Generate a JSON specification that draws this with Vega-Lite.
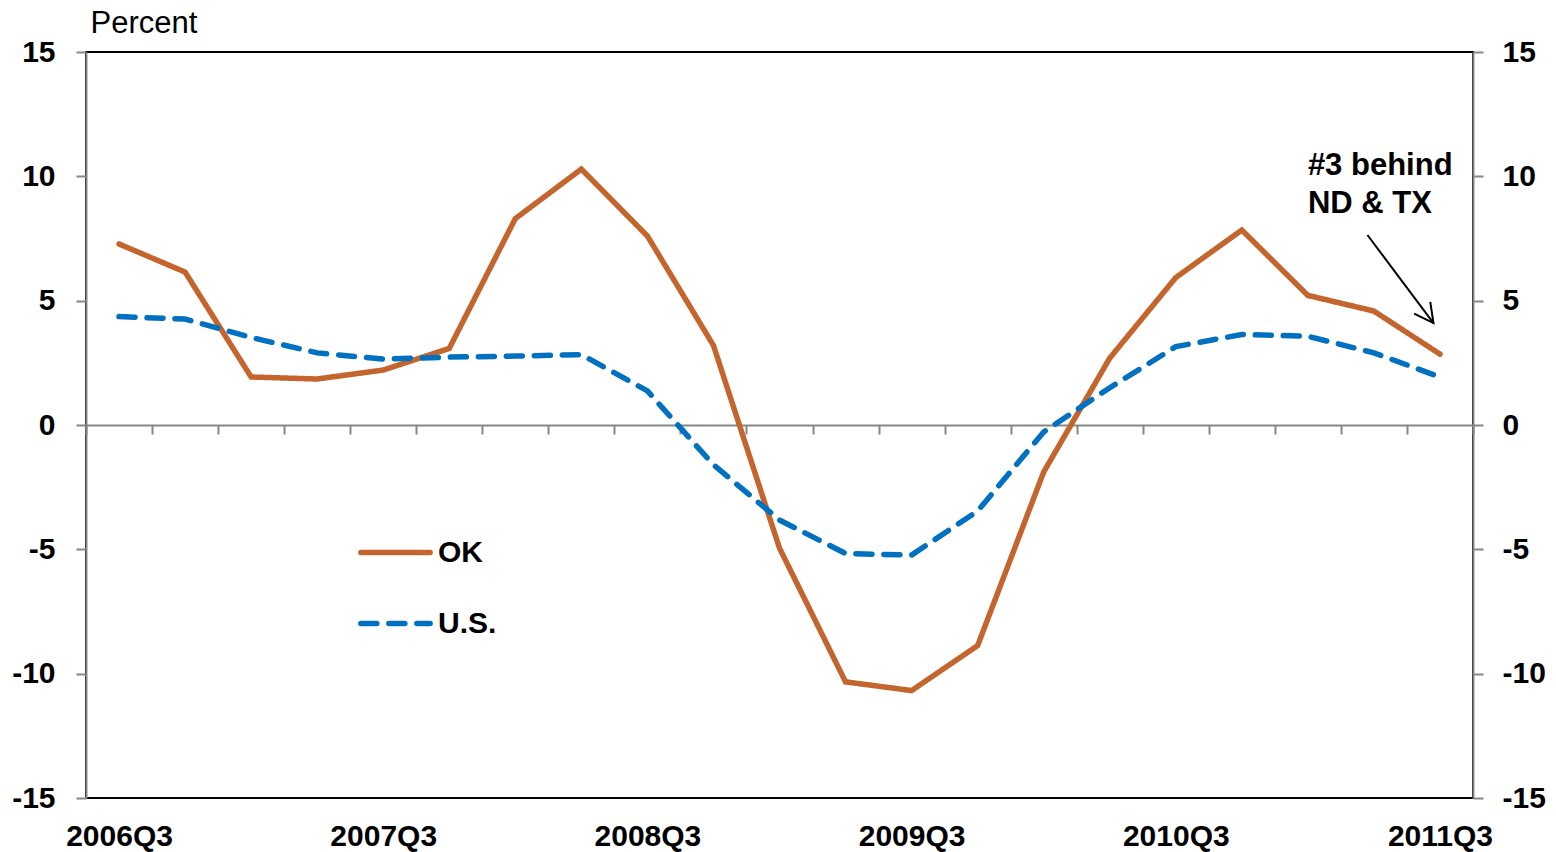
{
  "$schema": "https://vega.github.io/schema/vega-lite/v6.json",
  "width": 1387,
  "height": 746,
  "autosize": {"type": "none"},
  "padding": {"left": 86, "top": 52, "right": 83, "bottom": 54},
  "config": {"view": {"stroke": "#000", "strokeWidth": 2}, "font": "Liberation Sans"},
  "datasets": {
    "series": [
      {"quarter": "2006Q3", "series": "OK", "value": 7.28},
      {"quarter": "2006Q4", "series": "OK", "value": 6.15},
      {"quarter": "2007Q1", "series": "OK", "value": 1.93},
      {"quarter": "2007Q2", "series": "OK", "value": 1.85},
      {"quarter": "2007Q3", "series": "OK", "value": 2.21},
      {"quarter": "2007Q4", "series": "OK", "value": 3.08},
      {"quarter": "2008Q1", "series": "OK", "value": 8.3},
      {"quarter": "2008Q2", "series": "OK", "value": 10.29},
      {"quarter": "2008Q3", "series": "OK", "value": 7.6},
      {"quarter": "2008Q4", "series": "OK", "value": 3.2},
      {"quarter": "2009Q1", "series": "OK", "value": -4.95},
      {"quarter": "2009Q2", "series": "OK", "value": -10.33},
      {"quarter": "2009Q3", "series": "OK", "value": -10.68},
      {"quarter": "2009Q4", "series": "OK", "value": -8.87},
      {"quarter": "2010Q1", "series": "OK", "value": -1.89},
      {"quarter": "2010Q2", "series": "OK", "value": 2.69},
      {"quarter": "2010Q3", "series": "OK", "value": 5.93},
      {"quarter": "2010Q4", "series": "OK", "value": 7.84},
      {"quarter": "2011Q1", "series": "OK", "value": 5.21},
      {"quarter": "2011Q2", "series": "OK", "value": 4.58},
      {"quarter": "2011Q3", "series": "OK", "value": 2.85},
      {"quarter": "2006Q3", "series": "U.S.", "value": 4.36},
      {"quarter": "2006Q4", "series": "U.S.", "value": 4.26},
      {"quarter": "2007Q1", "series": "U.S.", "value": 3.52},
      {"quarter": "2007Q2", "series": "U.S.", "value": 2.9},
      {"quarter": "2007Q3", "series": "U.S.", "value": 2.65},
      {"quarter": "2007Q4", "series": "U.S.", "value": 2.73},
      {"quarter": "2008Q1", "series": "U.S.", "value": 2.77},
      {"quarter": "2008Q2", "series": "U.S.", "value": 2.83},
      {"quarter": "2008Q3", "series": "U.S.", "value": 1.37},
      {"quarter": "2008Q4", "series": "U.S.", "value": -1.6},
      {"quarter": "2009Q1", "series": "U.S.", "value": -3.82},
      {"quarter": "2009Q2", "series": "U.S.", "value": -5.17},
      {"quarter": "2009Q3", "series": "U.S.", "value": -5.23},
      {"quarter": "2009Q4", "series": "U.S.", "value": -3.46},
      {"quarter": "2010Q1", "series": "U.S.", "value": -0.28},
      {"quarter": "2010Q2", "series": "U.S.", "value": 1.5},
      {"quarter": "2010Q3", "series": "U.S.", "value": 3.15},
      {"quarter": "2010Q4", "series": "U.S.", "value": 3.64},
      {"quarter": "2011Q1", "series": "U.S.", "value": 3.57},
      {"quarter": "2011Q2", "series": "U.S.", "value": 2.9},
      {"quarter": "2011Q3", "series": "U.S.", "value": 1.93}
    ],
    "note": [{"quarter": "2011Q1", "value": 10.05, "label": "#3 behind\nND & TX"}],
    "arrow": [{"quarter": "2011Q2", "value": 7.64}, {"quarter": "2011Q3", "value": 4.1}]
  },
  "encoding": {
    "x": {
      "field": "quarter", "type": "ordinal", "bandPosition": 0.5,
      "scale": {"type": "band", "paddingInner": 0, "paddingOuter": 0,
        "domain": ["2006Q3","2006Q4","2007Q1","2007Q2","2007Q3","2007Q4","2008Q1","2008Q2","2008Q3","2008Q4","2009Q1","2009Q2","2009Q3","2009Q4","2010Q1","2010Q2","2010Q3","2010Q4","2011Q1","2011Q2","2011Q3"]},
      "axis": {
        "orient": "bottom", "offset": -373, "tickBand": "extent", "title": null, "grid": false,
        "domainColor": "#878787", "domainWidth": 2, "tickColor": "#878787", "tickWidth": 2, "tickSize": 9,
        "labelExpr": "indexof(datum.label, 'Q3') > 0 ? datum.label : ''",
        "labelFontSize": 30, "labelFontWeight": "bold", "labelColor": "#000",
        "labelPadding": 411, "labelBaseline": "alphabetic", "labelOverlap": false, "labelFlush": false, "labelAngle": 0
      }
    }
  },
  "layer": [
    {
      "data": {"name": "series"},
      "mark": {"type": "line", "strokeWidth": 5.5, "strokeCap": "round"},
      "encoding": {
        "y": {
          "field": "value", "type": "quantitative",
          "scale": {"domain": [-15, 15], "nice": false, "zero": false},
          "axis": {
            "orient": "left", "values": [-15, -10, -5, 0, 5, 10, 15], "grid": false,
            "labelExpr": "'' + datum.value",
            "domainColor": "#878787", "domainWidth": 2, "tickColor": "#878787", "tickWidth": 2, "tickSize": 10,
            "labelFontSize": 30, "labelFontWeight": "bold", "labelColor": "#000", "labelPadding": 21,
            "title": "Percent", "titleAngle": 0, "titleAlign": "left", "titleBaseline": "alphabetic",
            "titleX": 4, "titleY": -20, "titleFontWeight": "normal", "titleFontSize": 31, "titleColor": "#000"
          }
        },
        "color": {
          "field": "series", "type": "nominal",
          "scale": {"domain": ["OK", "U.S."], "range": ["#C4652E", "#0070C0"]},
          "legend": {
            "orient": "none", "legendX": 272, "legendY": 463, "title": null, "padding": 0,
            "symbolType": "stroke", "symbolSize": 4800, "symbolStrokeWidth": 5.5,
            "labelFontSize": 30, "labelFontWeight": "bold", "labelColor": "#000", "labelOffset": 5, "rowPadding": 18,
            "encode": {"symbols": {"update": {"strokeCap": {"value": "round"}}}}
          }
        },
        "strokeDash": {
          "field": "series", "type": "nominal",
          "scale": {"domain": ["OK", "U.S."], "range": [[1, 0], [16, 12]]},
          "legend": {
            "orient": "none", "legendX": 272, "legendY": 463, "title": null, "padding": 0,
            "symbolType": "stroke", "symbolSize": 4800, "symbolStrokeWidth": 5.5,
            "labelFontSize": 30, "labelFontWeight": "bold", "labelColor": "#000", "labelOffset": 5, "rowPadding": 18,
            "encode": {"symbols": {"update": {"strokeCap": {"value": "round"}}}}
          }
        }
      }
    },
    {
      "data": {"name": "note"},
      "mark": {"type": "text", "align": "left", "baseline": "alphabetic", "fontSize": 31, "fontWeight": "bold", "color": "#000", "lineBreak": "\n", "lineHeight": 38},
      "encoding": {
        "y": {"field": "value", "type": "quantitative", "axis": null},
        "text": {"field": "label"}
      }
    },
    {
      "data": {"name": "arrow"},
      "mark": {"type": "line", "color": "#000", "strokeWidth": 2, "xOffset": -6.5},
      "encoding": {
        "y": {
          "field": "value", "type": "quantitative",
          "axis": {
            "orient": "right", "values": [-15, -10, -5, 0, 5, 10, 15], "grid": false,
            "labelExpr": "'' + datum.value",
            "domainColor": "#878787", "domainWidth": 2, "tickColor": "#878787", "tickWidth": 2, "tickSize": 10,
            "labelFontSize": 30, "labelFontWeight": "bold", "labelColor": "#000", "labelPadding": 19, "title": null
          }
        }
      }
    },
    {
      "data": {"name": "arrow"},
      "transform": [{"filter": "datum.quarter == '2011Q3'"}],
      "mark": {"type": "point", "shape": "M-1,1.9L0,0L1,1.9", "filled": false, "stroke": "#000", "strokeWidth": 2, "size": 400, "angle": 143.6, "opacity": 1, "xOffset": -6.5},
      "encoding": {
        "y": {"field": "value", "type": "quantitative", "axis": null}
      }
    }
  ],
  "resolve": {"axis": {"y": "independent"}}
}
